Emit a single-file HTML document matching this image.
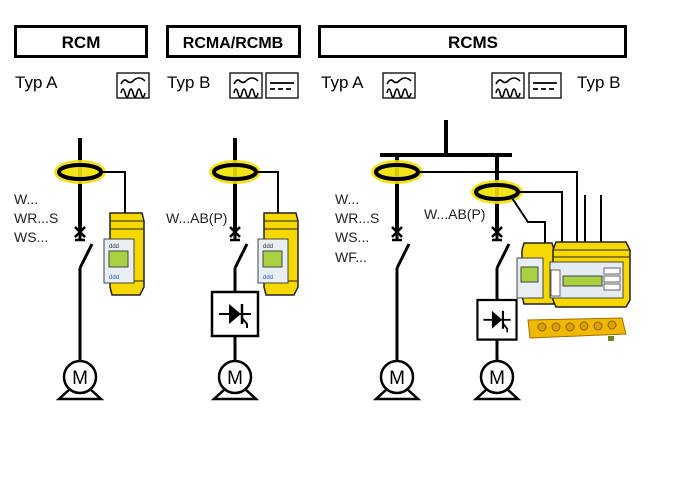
<!DOCTYPE html>
<html><head><meta charset="utf-8"><style>
html,body{margin:0;padding:0;background:#fff;}
svg{display:block;}
text{font-family:"Liberation Sans",Arial,sans-serif;}
</style></head><body>
<svg width="695" height="478" viewBox="0 0 695 478" xmlns="http://www.w3.org/2000/svg">
<defs>
<g id="ac">
<rect x="0" y="0" width="32" height="25" fill="#fff" stroke="#222" stroke-width="1.5"/>
<path d="M4 11 q3 -6 6 -3 t6 0 t6 -3 t6 3" fill="none" stroke="#000" stroke-width="1.6"/>
<path d="M4 20 q2 -8 4 0 t4 0 t4 0 t4 0 t4 0 t4 0" fill="none" stroke="#000" stroke-width="1.6"/>
</g>
<g id="dc">
<rect x="0" y="0" width="32" height="25" fill="#fff" stroke="#222" stroke-width="1.5"/>
<line x1="4" y1="10" x2="28" y2="10" stroke="#000" stroke-width="1.8"/>
<line x1="4" y1="16" x2="28" y2="16" stroke="#000" stroke-width="1.8" stroke-dasharray="5 3"/>
</g>
<g id="ring">
<ellipse cx="0" cy="0" rx="26" ry="12" fill="#f2e000" opacity="0.9"/>
<ellipse cx="0" cy="0" rx="21" ry="7" fill="none" stroke="#000" stroke-width="4"/>
</g>
<g id="motor">
<circle cx="0" cy="0" r="16" fill="#fff" stroke="#000" stroke-width="2.5"/>
<text x="0" y="7" font-size="19" text-anchor="middle">M</text>
<path d="M-10 12 L-21 22 L21 22 L10 12" fill="none" stroke="#000" stroke-width="2.5"/>
</g>
<g id="sw">
<path d="M-5 -5 L5 5 M5 -5 L-5 5" stroke="#000" stroke-width="2.5"/>
<line x1="-5" y1="8" x2="5" y2="8" stroke="#000" stroke-width="2.5"/>
<line x1="0" y1="0" x2="0" y2="8" stroke="#000" stroke-width="3"/>
<line x1="0" y1="36" x2="12" y2="12" stroke="#000" stroke-width="3"/>
</g>
<g id="conv">
<rect x="-23" y="0" width="46" height="44" fill="#fff" stroke="#000" stroke-width="2.5"/>
<line x1="-16" y1="22" x2="16" y2="22" stroke="#000" stroke-width="2"/>
<path d="M-6 12 L-6 32 L6 22 Z" fill="#000"/>
<line x1="7" y1="12" x2="7" y2="32" stroke="#000" stroke-width="2.5"/>
<path d="M7 26 L12 32 L12 36" fill="none" stroke="#000" stroke-width="2"/>
</g>
<g id="relay">
<path d="M6 0 L38 0 L40 8 L40 74 L36 82 L8 82 L6 74 Z" fill="#f6d800" stroke="#222" stroke-width="1.5"/>
<line x1="6" y1="8" x2="40" y2="8" stroke="#222"/>
<line x1="6" y1="16" x2="40" y2="16" stroke="#222"/>
<line x1="6" y1="68" x2="40" y2="68" stroke="#222"/>
<rect x="0" y="26" width="30" height="44" fill="#e8eef2" stroke="#444"/>
<rect x="5" y="38" width="19" height="16" fill="#a8d040" stroke="#444"/>
<text x="5" y="35" font-size="6" fill="#333">ddd</text>
<text x="5" y="66" font-size="6" fill="#2060c0">ddd</text>
</g>
</defs>

<!-- headers -->
<rect x="15.5" y="26.5" width="131" height="30" fill="#fff" stroke="#000" stroke-width="3"/>
<text x="81" y="48" font-size="17" font-weight="bold" text-anchor="middle">RCM</text>
<rect x="167.5" y="26.5" width="132" height="30" fill="#fff" stroke="#000" stroke-width="3"/>
<text x="233" y="48" font-size="16" font-weight="bold" text-anchor="middle">RCMA/RCMB</text>
<rect x="319.5" y="26.5" width="306" height="30" fill="#fff" stroke="#000" stroke-width="3"/>
<text x="473" y="48" font-size="17" font-weight="bold" text-anchor="middle">RCMS</text>

<text x="15" y="88" font-size="17">Typ A</text>
<use href="#ac" x="117" y="73"/>
<text x="167" y="88" font-size="17">Typ B</text>
<use href="#ac" x="230" y="73"/>
<use href="#dc" x="266" y="73"/>
<text x="321" y="88" font-size="17">Typ A</text>
<use href="#ac" x="383" y="73"/>
<use href="#ac" x="492" y="73"/>
<use href="#dc" x="529" y="73"/>
<text x="577" y="88" font-size="17">Typ B</text>

<!-- diagram 1 -->
<line x1="80" y1="138" x2="80" y2="232" stroke="#000" stroke-width="4"/>
<use href="#ring" x="80" y="172"/>
<path d="M101 172 L125 172 L125 216" fill="none" stroke="#000" stroke-width="2"/>
<use href="#sw" x="80" y="232"/>
<line x1="80" y1="268" x2="80" y2="362" stroke="#000" stroke-width="3"/>
<use href="#motor" x="80" y="377"/>
<use href="#relay" x="104" y="213"/>
<g font-size="14" fill="#222">
<text x="14" y="204">W...</text><text x="14" y="223">WR...S</text><text x="14" y="242">WS...</text>
</g>

<!-- diagram 2 -->
<line x1="235" y1="138" x2="235" y2="232" stroke="#000" stroke-width="4"/>
<use href="#ring" x="235" y="172"/>
<path d="M256 172 L278 172 L278 216" fill="none" stroke="#000" stroke-width="2"/>
<use href="#sw" x="235" y="232"/>
<line x1="235" y1="268" x2="235" y2="292" stroke="#000" stroke-width="3"/>
<use href="#conv" x="235" y="292"/>
<line x1="235" y1="336" x2="235" y2="362" stroke="#000" stroke-width="3"/>
<use href="#motor" x="235" y="377"/>
<use href="#relay" x="258" y="213"/>
<text x="166" y="223" font-size="14" fill="#222">W...AB(P)</text>

<!-- diagram 3 -->
<line x1="446" y1="120" x2="446" y2="155" stroke="#000" stroke-width="4"/>
<line x1="380" y1="155" x2="512" y2="155" stroke="#000" stroke-width="4"/>
<line x1="397" y1="155" x2="397" y2="232" stroke="#000" stroke-width="4"/>
<line x1="497" y1="155" x2="497" y2="232" stroke="#000" stroke-width="4"/>
<use href="#ring" x="397" y="172"/>
<use href="#ring" x="497" y="192"/>
<path d="M418 172 L577 172 L577 242" fill="none" stroke="#000" stroke-width="2"/>
<path d="M518 192 L562 192 L562 242" fill="none" stroke="#000" stroke-width="2"/>
<path d="M512 198 L528 222 L545 222 L545 244" fill="none" stroke="#000" stroke-width="2"/>
<line x1="585" y1="195" x2="585" y2="242" stroke="#000" stroke-width="2"/>
<line x1="601" y1="195" x2="601" y2="242" stroke="#000" stroke-width="2"/>
<use href="#sw" x="397" y="232"/>
<use href="#sw" x="497" y="232"/>
<line x1="397" y1="268" x2="397" y2="362" stroke="#000" stroke-width="3"/>
<line x1="497" y1="268" x2="497" y2="300" stroke="#000" stroke-width="3"/>
<g transform="translate(497,300) scale(0.85,0.9)"><use href="#conv"/></g>
<line x1="497" y1="340" x2="497" y2="362" stroke="#000" stroke-width="3"/>
<use href="#motor" x="397" y="377"/>
<use href="#motor" x="497" y="377"/>
<g font-size="14" fill="#222">
<text x="335" y="204">W...</text><text x="335" y="223">WR...S</text><text x="335" y="242">WS...</text><text x="335" y="262">WF...</text>
<text x="424" y="219">W...AB(P)</text>
</g>
<!-- RCMS devices -->
<path d="M524 243 L552 243 L554 250 L554 304 L524 304 L522 296 L522 250 Z" fill="#f6d800" stroke="#222" stroke-width="1.5"/>
<rect x="517" y="258" width="26" height="40" fill="#e8eef2" stroke="#444"/>
<rect x="521" y="267" width="17" height="15" fill="#a8d040" stroke="#444"/>
<path d="M556 242 L626 242 L630 250 L630 300 L626 307 L556 307 L553 300 L553 250 Z" fill="#f6d800" stroke="#222" stroke-width="1.5"/>
<line x1="553" y1="250" x2="630" y2="250" stroke="#222"/>
<line x1="553" y1="257" x2="630" y2="257" stroke="#222"/>
<rect x="550" y="262" width="73" height="36" fill="#e4ecf2" stroke="#444"/>
<rect x="563" y="276" width="39" height="10" fill="#a8d040" stroke="#444"/>
<rect x="551" y="270" width="9" height="26" fill="#fff" stroke="#666"/>
<rect x="604" y="268" width="16" height="6" fill="#fff" stroke="#666"/>
<rect x="604" y="276" width="16" height="6" fill="#fff" stroke="#666"/>
<rect x="604" y="284" width="16" height="6" fill="#fff" stroke="#666"/>
<path d="M528 320 L622 318 L626 334 L530 338 Z" fill="#f0b800" stroke="#a07000"/>
<g fill="#d8a000" stroke="#906000">
<circle cx="542" cy="327" r="4"/><circle cx="556" cy="327" r="4"/><circle cx="570" cy="327" r="4"/><circle cx="584" cy="326" r="4"/><circle cx="598" cy="326" r="4"/><circle cx="612" cy="325" r="4"/>
</g>
<rect x="608" y="336" width="6" height="5" fill="#6a8a20"/>
</svg>
</body></html>
